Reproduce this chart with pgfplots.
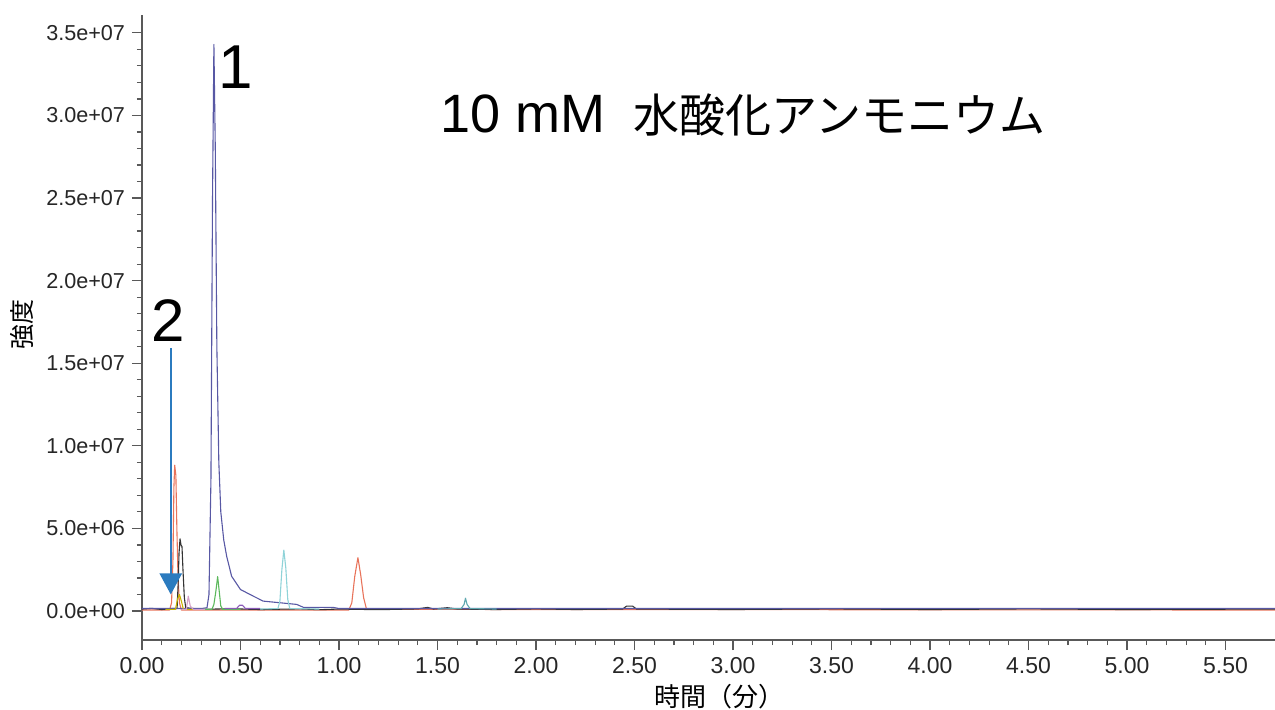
\documentclass[border=0pt]{standalone}
\usepackage{pgfplots}
\pgfplotsset{compat=1.18}
\usepackage{fontspec}
\setmainfont{Liberation Sans}
\newfontfamily\cjk{Noto Sans CJK JP}
\usetikzlibrary{arrows.meta}
\definecolor{cnavy}{HTML}{5858A4}
\definecolor{cred}{HTML}{E8735A}
\definecolor{cblack}{HTML}{333333}
\definecolor{cgreen}{HTML}{5CB85C}
\definecolor{ccyan}{HTML}{8FD3D8}
\definecolor{cteal}{HTML}{5FA8B0}
\definecolor{cyellow}{HTML}{C8B400}
\definecolor{cpink}{HTML}{D4A0C8}
\definecolor{cviolet}{HTML}{8A5AB8}
\definecolor{carrow}{HTML}{2B7BBF}
\begin{document}
\begin{tikzpicture}
\useasboundingbox (-71pt,-34.5pt) rectangle (566.5pt,320pt);
\begin{axis}[
  at={(0,0)}, anchor=south west,
  scale only axis, width=566.5pt, height=312.5pt,
  xmin=0, xmax=5.751, ymin=-1.755e6, ymax=3.608e7,
  axis lines*=left,
  axis line style={draw=black!65, line width=0.8pt},
  tick align=outside, major tick length=5pt, minor tick length=2.5pt,
  every tick/.style={draw=black!65, line width=0.6pt},
  xtick={0,0.5,1,1.5,2,2.5,3,3.5,4,4.5,5,5.5},
  xticklabels={0.00,0.50,1.00,1.50,2.00,2.50,3.00,3.50,4.00,4.50,5.00,5.50},
  minor x tick num=4,
  ytick={0,5e6,1e7,1.5e7,2e7,2.5e7,3e7,3.5e7},
  yticklabels={0.0e+00,5.0e+06,1.0e+07,1.5e+07,2.0e+07,2.5e+07,3.0e+07,3.5e+07},
  minor y tick num=4,
  scaled y ticks=false,
  yticklabel style={font=\fontsize{10.8}{12}\selectfont, text=black!85},
  xticklabel style={font=\fontsize{11.5}{13}\selectfont, text=black!85},
  every axis x label/.style={at={(axis description cs:0.51,-0.09)}, anchor=center},
  every axis y label/.style={at={(axis description cs:-0.106,0.505)}, rotate=90, anchor=center},
  xlabel={\cjk\fontsize{13}{15}\selectfont 時間（分）},
  ylabel={\cjk\fontsize{12.5}{14}\selectfont 強度},
  clip=false,
  every axis plot/.append style={line width=0.55pt, line join=round},
]
% red
\addplot[cred] coordinates {(0,0.6e5) (0.14,0.6e5) (0.15,5e5) (0.157,3e6) (0.162,7.5e6) (0.166,8.83e6) (0.172,8.2e6) (0.177,5e6) (0.183,2e6) (0.19,5e5) (0.2,0.6e5) (1.05,0.6e5) (1.065,5e5) (1.08,2.1e6) (1.096,3.23e6) (1.11,2.2e6) (1.125,8e5) (1.14,1e5) (5.751,0.6e5)};
% black
\addplot[cblack] coordinates {(0,1.2e5) (0.05,1.6e5) (0.1,0.9e5) (0.15,1.5e5) (0.178,1.5e5) (0.183,1.5e6) (0.188,3.5e6) (0.193,4.37e6) (0.198,4.0e6) (0.203,3.9e6) (0.208,2.5e6) (0.215,8e5) (0.222,2e5) (0.3,1e5) (0.45,1.4e5) (0.6,0.9e5) (0.8,1.3e5) (0.9,0.8e5) (1.0,1.2e5) (1.2,0.8e5) (1.4,1.3e5) (1.45,2.2e5) (1.48,1.2e5) (1.55,2.0e5) (1.6,1.2e5) (1.8,0.9e5) (2.0,1.3e5) (2.2,0.9e5) (2.44,1.2e5) (2.46,3.0e5) (2.49,3.0e5) (2.51,1.2e5) (3.0,0.9e5) (3.5,1.3e5) (4.0,0.9e5) (4.5,1.3e5) (5.0,0.9e5) (5.751,1.2e5)};
% navy main peak
\addplot[cnavy] coordinates {(0,1.5e5) (0.3,1.5e5) (0.33,2e5) (0.34,1.0e6) (0.35,8e6) (0.358,2.5e7) (0.365,3.43e7) (0.372,2.8e7) (0.38,1.6e7) (0.39,9e6) (0.40,6e6) (0.415,4.3e6) (0.43,3.3e6) (0.455,2.1e6) (0.5,1.3e6) (0.565,9e5) (0.615,6e5) (0.70,5e5) (0.785,4e5) (0.82,2.2e5) (0.97,2.2e5) (1.0,1.5e5) (5.751,1.6e5)};
% green
\addplot[cgreen] coordinates {(0.3,1e5) (0.355,1e5) (0.365,4e5) (0.375,1.2e6) (0.384,2.08e6) (0.392,1.2e6) (0.4,3e5) (0.41,1e5) (0.5,1e5)};
% cyan
\addplot[ccyan] coordinates {(0.6,1.2e5) (0.69,1.5e5) (0.70,6e5) (0.71,2.5e6) (0.72,3.69e6) (0.73,2.6e6) (0.74,7e5) (0.75,1.5e5) (0.9,1.2e5)};
% teal
\addplot[cteal] coordinates {(1.5,1.2e5) (1.62,1.5e5) (1.635,4e5) (1.642,7.8e5) (1.65,4e5) (1.665,1.5e5) (1.8,1.2e5)};
% yellow
\addplot[cyellow] coordinates {(0.12,1e5) (0.17,1e5) (0.18,7e5) (0.19,1.0e6) (0.2,6e5) (0.21,1e5) (0.26,1e5)};
% pink
\addplot[cpink] coordinates {(0.2,1e5) (0.225,1e5) (0.235,9e5) (0.245,3e5) (0.26,1e5) (0.32,1e5)};
% violet
\addplot[cviolet] coordinates {(0.42,1.5e5) (0.48,1.5e5) (0.495,3.5e5) (0.51,3.5e5) (0.525,1.5e5) (0.6,1.5e5)};
% annotations
\draw[carrow, line width=1.1pt, -{Triangle[width=11pt,length=10.5pt]}] (axis cs:0.146,1.59e7) -- (axis cs:0.146,1.0e6);
\node[font=\fontsize{30}{34}\selectfont] at (axis cs:0.132,1.76e7) {2};
\node[font=\fontsize{31}{34}\selectfont] at (axis cs:0.477,3.29e7) {1};
\node[inner sep=0pt] at (axis cs:3.05,3.0e7) {\fontsize{27}{30}\selectfont 10 mM\hspace{14pt}{\cjk\fontsize{23}{28}\selectfont 水酸化アンモニウム}};
\end{axis}
\end{tikzpicture}
\end{document}
